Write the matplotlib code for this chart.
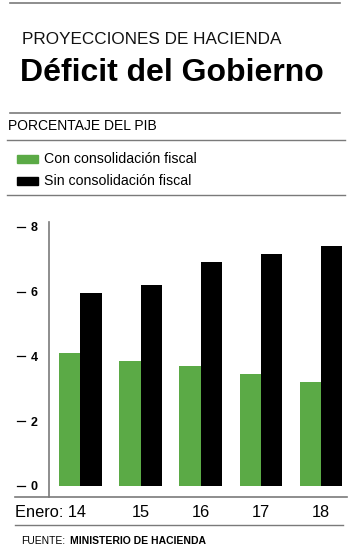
import matplotlib
matplotlib.use("Agg")
import matplotlib.pyplot as plt
from matplotlib.lines import Line2D
from matplotlib.transforms import blended_transform_factory
import numpy as np

plt.rcParams['font.family'] = ['Liberation Sans', 'DejaVu Sans']

anios = ['Enero: 14', '15', '16', '17', '18']
con_consolidacion = [4.1, 3.85, 3.7, 3.45, 3.2]
sin_consolidacion = [5.95, 6.2, 6.9, 7.15, 7.4]
ticks_y = [0, 2, 4, 6, 8]

verde = '#5BAA46'
gris = '#7a7a7a'
W, H = 350, 548


def fx(px):
    return px / W


def fy(py):
    return 1 - py / H


fig = plt.figure(figsize=(3.5, 5.48), dpi=100)

# encabezado
for y in [3, 112.5]:
    fig.add_artist(Line2D([fx(10), fx(340)], [fy(y), fy(y)], color=gris, lw=1.2))
fig.text(fx(22), fy(39), 'PROYECCIONES DE HACIENDA', fontsize=12.3,
         va='center', color='#111111')
fig.text(fx(20), fy(81.5), 'Déficit del Gobierno', fontsize=23,
         fontweight='bold', va='baseline', color='black')

fig.text(fx(8), fy(126), 'PORCENTAJE DEL PIB', fontsize=10, va='center')
for y in [139.5, 195]:
    fig.add_artist(Line2D([fx(7), fx(345)], [fy(y), fy(y)], color=gris, lw=1))

# leyenda
for ypx, col, txt in [(159, verde, 'Con consolidación fiscal'),
                      (181, 'black', 'Sin consolidación fiscal')]:
    fig.add_artist(plt.Rectangle((fx(17), fy(ypx + 4)), fx(21), 8 / H,
                                 color=col, transform=fig.transFigure))
    fig.text(fx(44), fy(ypx), txt, fontsize=10.2, va='center')

# grafico
ax = fig.add_axes([fx(49), fy(497), fx(298), (497 - 222) / H])
x = np.arange(len(anios))
ancho = 0.355
ax.bar(x - ancho / 2, con_consolidacion, ancho, color=verde)
ax.bar(x + ancho / 2, sin_consolidacion, ancho, color='black')

ax.set_xlim(-0.52, 4.43)
ax.set_ylim(-0.34, 8.15)
ax.set_xticks(x)
ax.set_xticklabels(anios, fontsize=11.8)
ax.tick_params(axis='x', length=0, pad=6)
# la primera etiqueta va corrida a la izquierda
ax.get_xticklabels()[0].set_visible(False)
ax.annotate(anios[0], xy=(x[0], 0), xycoords=('data', 'axes fraction'),
            xytext=(4, -6), textcoords='offset points', ha='right', va='top',
            fontsize=11.8)

ax.set_yticks(ticks_y)
ax.set_yticklabels([str(t) for t in ticks_y], fontsize=9, fontweight='bold')
ax.tick_params(axis='y', length=0, pad=8)

for s in ['top', 'right', 'bottom']:
    ax.spines[s].set_visible(False)
ax.spines['left'].set_color(gris)
ax.spines['left'].set_linewidth(1.2)

trans = blended_transform_factory(fig.transFigure, ax.transData)
for t in ticks_y:
    fig.add_artist(Line2D([fx(17), fx(25)], [t, t], color='black', lw=0.9,
                          transform=trans))

# lineas base
fig.add_artist(Line2D([fx(15), fx(347)], [fy(497), fy(497)], color=gris, lw=1.2))
fig.add_artist(Line2D([fx(15), fx(343)], [fy(525), fy(525)], color=gris, lw=1))

fig.text(fx(21.5), fy(541.5), 'FUENTE:', fontsize=7.5, va='center')
fig.text(fx(70), fy(541.5), 'MINISTERIO DE HACIENDA', fontsize=7.5,
         fontweight='bold', va='center')

fig.savefig('out.png', dpi=100)
